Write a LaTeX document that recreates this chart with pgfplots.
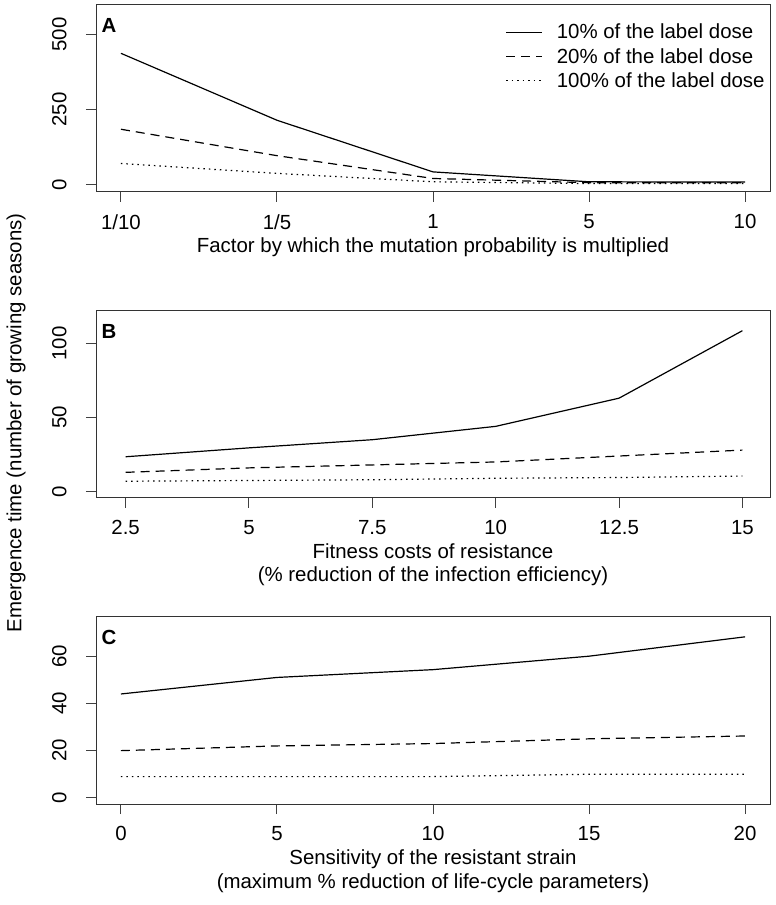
\documentclass[border=0pt]{standalone}
\usepackage{fontspec}
\setmainfont{Liberation Sans}
\usepackage{pgfplots}
\pgfplotsset{compat=1.18}

\pgfplotsset{rpanel/.style={
  width=674bp, height=187bp, scale only axis,
  anchor=south west,
  axis line style={line width=1bp, black!80},
  tick align=outside, major tick length=10bp,
  tick style={line width=1bp, black!75},
  xtick pos=bottom, ytick pos=left,
  font=\fontsize{20.5}{24}\selectfont,
  /pgf/number format/assume math mode=true,
  yticklabel style={rotate=90, anchor=south},
  yticklabel shift=16bp, xticklabel shift=9bp,
  every axis x label/.style={at={(axis description cs:0.5,0)}, anchor=center, align=center},
  every axis plot/.append style={line width=1.2bp, black},
}}
\tikzset{
  rsolid/.style={solid},
  rdash/.style={dash pattern=on 9bp off 6bp},
  rdot/.style={dash pattern=on 1.5bp off 4bp},
  panlab/.style={font=\bfseries\fontsize{20.5}{24}\selectfont, anchor=north west, xshift=2bp, yshift=-10bp},
}

\begin{document}
\begin{tikzpicture}
\useasboundingbox (0,0) rectangle (776bp,905bp);

% panel A
\begin{axis}[rpanel, at={(96bp,713bp)},
  xmin=0.84, xmax=5.16, ymin=-25, ymax=598,
  xtick={1,2,3,4,5}, xticklabels={1/10,1/5,1,5,10},
  ytick={0,250,500},
  xlabel={Factor by which the mutation probability is multiplied},
  xlabel style={yshift=-55bp},
  legend style={draw=none, fill=none, inner sep=0pt, at={(rel axis cs:0.6074,0.91)}, anchor=north west,
    row sep=4bp, font=\fontsize{20.5}{24}\selectfont,
    /tikz/every odd column/.style={column sep=12bp}},
  legend cell align=left,
  legend image code/.code={\draw[#1] (0bp,0bp) -- (36bp,0bp);},
]
\addplot[rsolid] coordinates {(1,437) (2,214) (3,42) (4,9) (5,8)};
\addplot[rdash] coordinates {(1,184) (2,96) (3,20) (4,6) (5,6)};
\addplot[rdot] coordinates {(1,70) (2,37) (3,9) (4,3) (5,3)};
\legend{10\% of the label dose, 20\% of the label dose, 100\% of the label dose}
\node[panlab] at (rel axis cs:0,1) {A};
\end{axis}

% panel B
\begin{axis}[rpanel, at={(96bp,407.3bp)},
  xmin=1.9, xmax=15.56, ymin=-4.1, ymax=122,
  xtick={2.5,5,7.5,10,12.5,15}, xticklabels={2.5,5,7.5,10,12.5,15},
  ytick={0,50,100},
  xlabel={Fitness costs of resistance\\(\% reduction of the infection efficiency)},
  xlabel style={yshift=-67bp},
]
\addplot[rsolid] coordinates {(2.5,23.5) (5,29.5) (7.5,35) (10,44) (12.5,63) (15,108.5)};
\addplot[rdash] coordinates {(2.5,13) (5,16) (7.5,18) (10,20) (12.5,24) (15,28)};
\addplot[rdot] coordinates {(2.5,7) (5,7.5) (7.5,8) (10,9) (12.5,9.5) (15,10.5)};
\node[panlab] at (rel axis cs:0,1) {B};
\end{axis}

% panel C
\begin{axis}[rpanel, at={(96bp,101bp)},
  xmin=-0.8, xmax=20.8, ymin=-2.6, ymax=76.6,
  xtick={0,5,10,15,20},
  ytick={0,20,40,60},
  xlabel={Sensitivity of the resistant strain\\(maximum \% reduction of life-cycle parameters)},
  xlabel style={yshift=-67.5bp},
]
\addplot[rsolid] coordinates {(0,44) (5,51) (10,54.3) (15,60) (20,68.2)};
\addplot[rdash] coordinates {(0,20) (5,22) (10,23) (15,25) (20,26.2)};
\addplot[rdot] coordinates {(0,9) (5,9) (10,9) (15,10) (20,10)};
\node[panlab] at (rel axis cs:0,1) {C};
\end{axis}

\node[rotate=90, font=\fontsize{20.5}{24}\selectfont] at (16bp,482bp) {Emergence time (number of growing seasons)};
\end{tikzpicture}
\end{document}
